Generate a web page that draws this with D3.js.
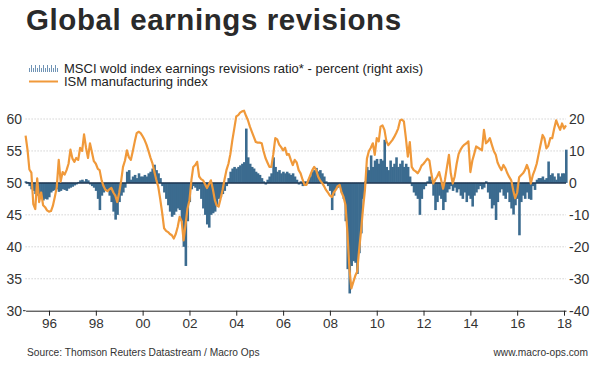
<!DOCTYPE html>
<html>
<head>
<meta charset="utf-8">
<script src="https://cdn.jsdelivr.net/npm/d3@7"></script>
<style>
  html, body { margin: 0; padding: 0; background: #fff; }
  svg { display: block; font-family: "Liberation Sans", Arial, sans-serif; }
</style>
</head>
<body>
<div id="chart"></div>
<script>
// monthly data, Jan 1995 .. Feb 2018
let firstMonth = new Date(1995, 0, 1);

// ISM manufacturing index (left axis)
let ismValues = [
  57.4, 55.1, 52.1, 51.6, 46.7, 45.9, 50.7, 47.0, 48.5, 46.5, 46.2, 45.7, // 1995
  45.5, 45.6, 46.4, 47.8, 49.3, 53.6, 50.2, 51.7, 51.3, 52.0, 53.0, 55.2, // 1996
  53.8, 53.3, 53.9, 53.6, 55.5, 55.0, 57.6, 55.5, 53.9, 56.2, 54.8, 53.4, // 1997
  53.0, 52.2, 52.0, 50.4, 49.5, 48.9, 48.7, 49.0, 49.2, 48.5, 48.0, 47.0, // 1998
  48.5, 50.4, 52.5, 53.5, 55.1, 54.0, 53.6, 55.0, 56.5, 57.8, 58.0, 57.8, // 1999
  57.3, 56.7, 56.0, 55.0, 54.0, 53.1, 51.8, 50.5, 49.4, 47.5, 45.3, 42.9, // 2000
  42.5, 42.3, 42.0, 41.8, 41.3, 42.0, 43.1, 44.7, 44.0, 41.0, 43.5, 46.0, // 2001
  47.3, 50.5, 52.5, 52.8, 53.3, 51.0, 50.6, 50.4, 49.8, 49.2, 49.8, 50.4, // 2002
  49.0, 47.3, 46.5, 46.3, 47.5, 48.9, 50.5, 52.0, 53.0, 54.5, 56.7, 58.5, // 2003
  60.4, 60.6, 61.0, 61.2, 61.3, 60.5, 59.8, 58.8, 58.0, 57.2, 56.4, 56.3, // 2004
  56.3, 56.2, 55.0, 53.9, 53.2, 52.5, 52.5, 54.5, 57.0, 56.8, 56.0, 55.6, // 2005
  55.1, 55.5, 54.4, 54.5, 53.6, 52.8, 53.6, 53.2, 52.0, 51.5, 50.5, 49.7, // 2006
  49.7, 50.5, 51.2, 52.0, 52.5, 52.0, 51.0, 50.4, 50.0, 49.5, 48.9, 48.5, // 2007
  48.0, 47.8, 48.5, 48.9, 49.5, 49.7, 48.5, 47.8, 46.5, 42.1, 36.5, 33.5, // 2008
  34.5, 35.5, 36.1, 39.5, 42.5, 46.0, 48.9, 53.8, 55.0, 55.5, 56.2, 54.4, // 2009
  57.0, 56.5, 58.8, 59.0, 58.3, 56.5, 55.9, 56.3, 56.7, 57.2, 57.8, 58.5, // 2010
  59.8, 59.9, 59.6, 57.0, 54.1, 56.4, 52.5, 52.0, 51.8, 51.5, 52.0, 52.7, // 2011
  53.0, 53.4, 53.8, 53.5, 51.5, 49.9, 50.5, 51.0, 51.7, 50.5, 49.1, 50.5, // 2012
  52.5, 54.4, 51.5, 49.9, 51.0, 53.0, 54.5, 55.2, 55.7, 56.0, 56.2, 56.5, // 2013
  51.7, 53.5, 54.5, 55.7, 55.5, 55.3, 55.1, 58.3, 56.2, 56.5, 57.0, 56.0, // 2014
  55.0, 54.4, 53.2, 52.5, 52.0, 52.8, 52.3, 51.5, 50.9, 50.4, 48.8, 47.6, // 2015
  48.5, 50.9, 51.2, 51.5, 52.0, 52.8, 52.0, 49.9, 51.2, 52.0, 53.0, 54.5, // 2016
  56.0, 57.5, 57.0, 55.4, 55.8, 57.0, 57.0, 58.5, 59.8, 59.0, 58.3, 59.3, // 2017
  58.5, 59.0                                                              // 2018
];

// MSCI world earnings revisions ratio, percent (right axis)
let revisionValues = [
  0.5, 0.3, -1.0, -2.0, -2.5, -3.5, -4.0, -4.5, -5.0, -5.5, -5.0, -5.2,
  -4.5, -3.0, -2.5, -2.2, -2.0, -2.8, -2.5, -2.0, -2.2, -2.5, -1.8, -1.5,
  -1.2, -0.8, -0.5, 0.3, 0.8, 1.0, 0.5, 1.2, 0.8, -0.5, -1.0, -1.5,
  -2.5, -5.0, -8.5, -4.0, -3.0, -2.0, -2.5, -4.0, -6.0, -9.0, -11.5, -10.0,
  -6.0, -4.0, -3.0, -1.5, 3.5, 4.0, 1.0, 2.0, 2.5, 1.5, 3.0, 2.0,
  2.0, 2.5, 2.0, 3.0, 3.5, 4.5, 5.7, 4.0, 3.0, 1.5, -1.0, -3.0,
  -5.0, -7.0, -9.0, -10.6, -10.0, -9.0, -8.0, -8.5, -12.0, -20.0, -26.0, -12.0,
  -6.0, -2.0, -1.0, -1.5, -2.5, -2.0, -5.0, -8.0, -10.0, -13.0, -14.0, -10.0,
  -9.5, -9.0, -7.0, -5.0, -4.5, -3.5, -2.5, -1.0, 1.5, 3.5, 4.5, 5.0,
  4.5, 5.0, 5.5, 6.0, 6.5, 17.0, 8.0, 6.0, 5.0, 4.5, 3.5, 3.0,
  2.5, 1.5, 0.5, -0.5, 1.0, 2.0, 3.0, 8.0, 5.0, 3.5, 4.0, 3.0,
  3.5, 3.0, 3.5, 3.0, 2.5, 3.0, 2.0, 1.0, -0.5, 0.5, -1.0, 0.5,
  0.5, 1.0, 2.0, 3.5, 4.0, 4.7, 3.6, 4.0, 3.0, 2.0, 0.5, -1.0,
  -2.5, -8.5, -4.0, -2.0, -1.5, -1.0, -3.0, -5.0, -12.0, -27.0, -34.6, -26.0,
  -24.5, -25.0, -28.5, -22.0, -15.8, -5.0, 0.5, 5.0, 4.0, 8.6, 5.0, 7.0,
  7.5, 6.0, 7.5, 7.0, 13.5, 5.0, 4.0, 7.0, 5.0, 6.0, 8.0, 5.0,
  6.0, 7.0, 5.0, 6.0, 5.0, 2.0, -1.0, -3.0, -4.0, -5.0, -10.0, -5.0,
  -2.0, -1.0, 0.5, 2.0, 1.0, -4.0, -8.5, -6.0, -4.0, -5.0, -8.5, -6.0,
  -3.0, -2.0, -1.0, -2.5, -1.5, -3.0, -2.0, -4.0, -5.0, -3.0, -6.0, -4.0,
  -5.0, -7.4, -4.0, -3.0, -2.0, -1.0, -2.0, -1.5, 0.5, -3.0, -5.0, -8.0,
  -7.0, -11.6, -6.0, -3.0, -2.0, -4.0, -5.0, -3.0, -6.0, -8.0, -9.9, -7.0,
  -5.0, -16.4, -6.0, -4.0, -5.0, -3.0, -5.0, -5.3, -1.0, -2.2, 1.0, 1.5,
  1.5, 2.0, 1.0, 1.5, 6.7, 2.5, 3.0, 2.0, 1.0, 3.0, 2.0, 3.0,
  3.0, 10.4
];

let yearTicks = [1996, 1998, 2000, 2002, 2004, 2006, 2008, 2010, 2012, 2014, 2016, 2018];
let leftTicks = [30, 35, 40, 45, 50, 55, 60];
let rightTicks = [-40, -30, -20, -10, 0, 10, 20];

let title = 'Global earnings revisions';
let legendBars = 'MSCI wold index earnings revisions ratio* - percent (right axis)';
let legendLine = 'ISM manufacturing index';
let sourceText = 'Source: Thomson Reuters Datastream / Macro Ops';
let siteText = 'www.macro-ops.com';

// layout
let config = { svg: {}, plot: {} };
config.svg.width = 593;
config.svg.height = 367;
config.plot.left = 25.6;
config.plot.right = 566;
config.plot.top = 119;
config.plot.bottom = 310.7;

function translate(x, y) {
  return 'translate(' + x + ',' + y + ')';
}

let svg = d3.select('#chart').append('svg')
  .attr('width', config.svg.width)
  .attr('height', config.svg.height);

let months = ismValues.map((v, i) => d3.timeMonth.offset(firstMonth, i));

let x = d3.scaleTime()
  .domain([firstMonth, new Date(2018, 1, 1)])
  .range([config.plot.left, config.plot.right]);
let yLeft = d3.scaleLinear().domain([30, 60]).range([config.plot.bottom, config.plot.top]);
let yRight = d3.scaleLinear().domain([-40, 20]).range([config.plot.bottom, config.plot.top]);

// title
svg.append('text')
  .attr('x', 26).attr('y', 30)
  .attr('font-size', 29.5).attr('font-weight', 'bold')
  .attr('letter-spacing', 0.6)
  .attr('fill', '#2a2a2a')
  .text(title);

// legend
let legend = svg.append('g');
let iconHeights = [4, 7, 4, 7, 4, 7, 4, 7, 4, 7, 4, 7, 4, 7, 4];
legend.selectAll('rect.icon')
  .data(iconHeights)
  .enter().append('rect')
  .attr('x', (d, i) => 29 + i * 2)
  .attr('y', d => 72 - d)
  .attr('width', 1)
  .attr('height', d => d)
  .attr('fill', '#6f93b5');
legend.append('line')
  .attr('x1', 29).attr('x2', 58)
  .attr('y1', 81.5).attr('y2', 81.5)
  .attr('stroke', '#f0993a').attr('stroke-width', 2);
legend.append('text')
  .attr('x', 64).attr('y', 72.5)
  .attr('font-size', 13).attr('fill', '#222')
  .text(legendBars);
legend.append('text')
  .attr('x', 64).attr('y', 86)
  .attr('font-size', 13).attr('fill', '#222')
  .text(legendLine);

// gridlines
svg.append('g')
  .selectAll('line')
  .data(leftTicks.filter(d => d !== 30 && d !== 50))
  .enter().append('line')
  .attr('x1', config.plot.left).attr('x2', config.plot.right)
  .attr('y1', d => yLeft(d)).attr('y2', d => yLeft(d))
  .attr('stroke', '#bdbdbd').attr('stroke-width', 1)
  .attr('stroke-dasharray', '1,2');

// revision bars
let step = x(months[1]) - x(months[0]);
svg.append('g')
  .selectAll('rect')
  .data(revisionValues)
  .enter().append('rect')
  .attr('x', (d, i) => x(months[i]) - step / 2)
  .attr('y', d => Math.min(yRight(d), yRight(0)))
  .attr('width', step + 0.6)
  .attr('height', d => Math.abs(yRight(d) - yRight(0)))
  .attr('fill', '#3b6b8f');

// zero line
svg.append('line')
  .attr('x1', config.plot.left).attr('x2', config.plot.right)
  .attr('y1', yRight(0)).attr('y2', yRight(0))
  .attr('stroke', '#1d3550').attr('stroke-width', 1.5);

// ISM line
let line = d3.line()
  .x((d, i) => x(months[i]))
  .y(d => yLeft(d));
svg.append('path')
  .datum(ismValues)
  .attr('d', line)
  .attr('fill', 'none')
  .attr('stroke', '#f0993a')
  .attr('stroke-width', 2.2)
  .attr('stroke-linejoin', 'round');

// x axis
let xAxis = d3.axisBottom(x)
  .tickValues(yearTicks.map(y => new Date(y, 0, 1)))
  .tickFormat(d3.timeFormat('%y'))
  .tickSize(5)
  .tickSizeOuter(0);
let gx = svg.append('g')
  .attr('transform', translate(0, config.plot.bottom))
  .call(xAxis);
gx.select('.domain').attr('stroke', '#222');
gx.selectAll('.tick line').attr('stroke', '#222');
gx.selectAll('.tick text')
  .attr('font-size', 13.5)
  .attr('font-family', '"Liberation Sans", Arial, sans-serif')
  .attr('fill', '#333')
  .attr('y', 8);

// left axis labels
svg.append('g')
  .selectAll('text')
  .data(leftTicks)
  .enter().append('text')
  .attr('x', 22)
  .attr('y', d => yLeft(d))
  .attr('dy', '0.36em')
  .attr('text-anchor', 'end')
  .attr('font-size', 14)
  .attr('fill', '#333')
  .text(d => d);
svg.append('line')
  .attr('x1', 23).attr('x2', config.plot.left)
  .attr('y1', config.plot.bottom).attr('y2', config.plot.bottom)
  .attr('stroke', '#222');

// right axis labels
svg.append('g')
  .selectAll('text')
  .data(rightTicks)
  .enter().append('text')
  .attr('x', 569)
  .attr('y', d => yRight(d))
  .attr('dy', '0.36em')
  .attr('font-size', 14)
  .attr('fill', '#333')
  .text(d => d);

// footer
svg.append('text')
  .attr('x', 27).attr('y', 356)
  .attr('font-size', 10.2).attr('fill', '#333')
  .text(sourceText);
svg.append('text')
  .attr('x', 588).attr('y', 356)
  .attr('text-anchor', 'end')
  .attr('font-size', 10.2).attr('fill', '#333')
  .text(siteText);
</script>
</body>
</html>
